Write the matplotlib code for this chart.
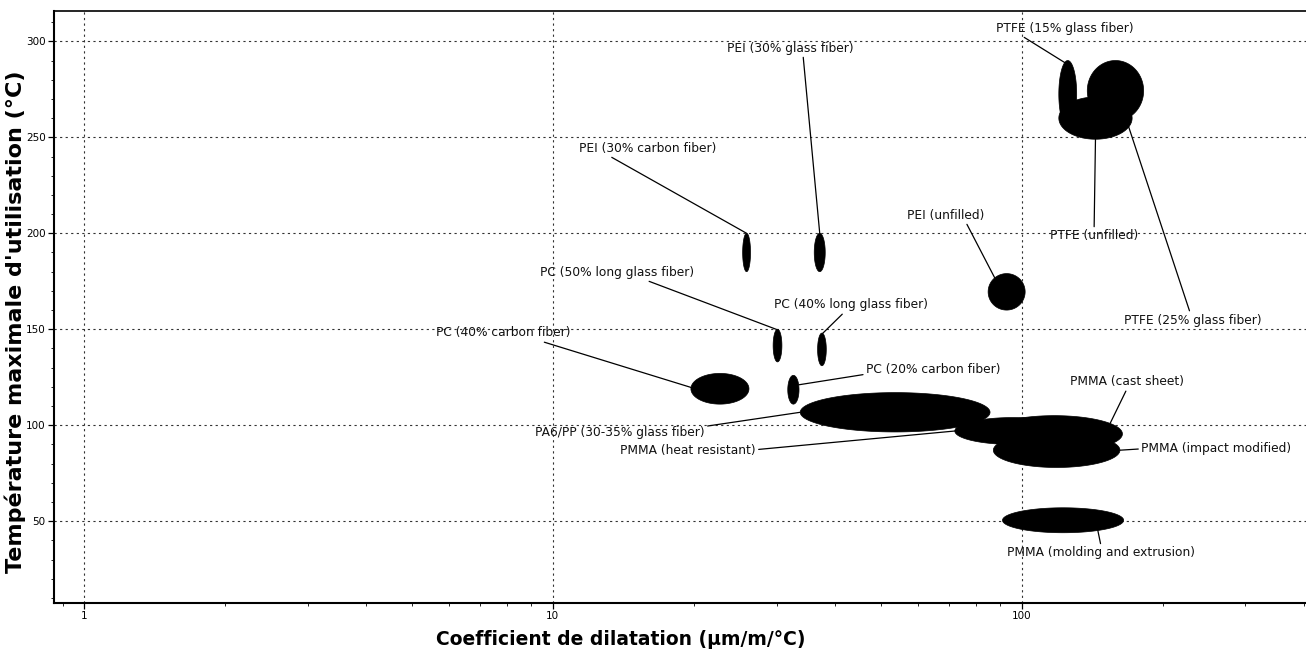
import numpy as np
import matplotlib
matplotlib.use("Agg")
import matplotlib.pyplot as plt
from matplotlib.ticker import FixedLocator, LogLocator, NullFormatter, MultipleLocator

# material bubbles: ranges of CTE (um/m/C) and max service temperature (C)
materials = [
    "PEI (30% carbon fiber)", "PEI (30% glass fiber)", "PC (50% long glass fiber)",
    "PC (40% long glass fiber)", "PC (40% carbon fiber)", "PC (20% carbon fiber)",
    "PA6/PP (30-35% glass fiber)", "PEI (unfilled)", "PTFE (15% glass fiber)",
    "PTFE (25% glass fiber)", "PTFE (unfilled)", "PMMA (heat resistant)",
    "PMMA (cast sheet)", "PMMA (impact modified)", "PMMA (molding and extrusion)",
]
cte_min = [25.4, 36.1, 29.5, 36.7, 19.7, 31.7, 33.7, 84.8, 120, 138, 120, 72, 84, 87, 91]
cte_max = [26.4, 38.1, 30.8, 38.3, 26.2, 33.5, 85.6, 101.7, 131, 182, 172, 127, 164, 162, 165]
tmax_min = [180, 180, 133, 131, 111, 111, 96.5, 160, 255, 258.5, 249, 90, 86, 78, 44]
tmax_max = [200, 200, 150, 148, 127, 126, 117, 179, 290, 290, 271, 104, 105, 96, 57]

x_ticks = [1, 10, 100]
y_ticks = [50, 100, 150, 200, 250, 300]

# label placement: text centre (data coords), where the leader leaves the text,
# and angle (deg) of the point on the bubble edge it points at
label_pos = {
    "PEI (30% carbon fiber)": (15.96, 244.4, (0.2, 0), 90),
    "PEI (30% glass fiber)": (32.1, 296.5, (0.6, 0), 90),
    "PC (50% long glass fiber)": (13.71, 179.8, (0.66, 0), 100),
    "PC (40% long glass fiber)": (43.3, 162.7, (0.46, 0), 80),
    "PC (40% carbon fiber)": (7.83, 148.1, (0.74, 0), 175),
    "PC (20% carbon fiber)": (64.7, 129.3, (0, 0.1), 20),
    "PA6/PP (30-35% glass fiber)": (13.91, 96.0, (1, 1), 180),
    "PEI (unfilled)": (69.0, 209.5, (0.75, 0), 130),
    "PTFE (15% glass fiber)": (123.8, 306.9, (0.17, 0), 110),
    "PTFE (25% glass fiber)": (232.1, 154.8, (0.48, 1), -68),
    "PTFE (unfilled)": (142.7, 198.6, (0.5, 1), -90),
    "PMMA (heat resistant)": (19.43, 86.6, (1, 0.6), 180),
    "PMMA (cast sheet)": (167.9, 122.6, (0.5, 0), 35),
    "PMMA (impact modified)": (259.8, 87.7, (0, 0.5), 0),
    "PMMA (molding and extrusion)": (147.7, 33.5, (0.5, 1), -55),
}


def bubble(i, t):
    lx0, lx1 = np.log10(cte_min[i]), np.log10(cte_max[i])
    cx, a = (lx0 + lx1) / 2, (lx1 - lx0) / 2
    cy, b = (tmax_min[i] + tmax_max[i]) / 2, (tmax_max[i] - tmax_min[i]) / 2
    return 10 ** (cx + a * np.cos(t)), cy + b * np.sin(t)


fig = plt.figure(figsize=(13.06, 6.55), dpi=100)
ax = fig.add_axes([54 / 1306, 52 / 655, 1252 / 1306, 592 / 655])

t = np.linspace(0, 2 * np.pi, 200)
for i, name in enumerate(materials):
    xs, ys = bubble(i, t)
    ax.fill(xs, ys, color="black", lw=0.5, zorder=3)

for i, name in enumerate(materials):
    lx, ly, rel, ang = label_pos[name]
    px, py = bubble(i, np.radians(ang))
    ax.annotate(name, xy=(px, py), xytext=(lx, ly), ha="center", va="center",
                fontsize=8.8, color="#111",
                arrowprops=dict(arrowstyle="-", color="black", lw=0.9,
                                relpos=rel, shrinkA=0, shrinkB=0),
                zorder=4)

ax.set_xscale("log")
ax.set_xlim(0.863, 404)
ax.set_ylim(7.4, 315.8)

ax.xaxis.set_major_locator(FixedLocator(x_ticks))
ax.set_xticklabels([str(v) for v in x_ticks])
ax.xaxis.set_minor_locator(LogLocator(base=10, subs=np.arange(2, 10)))
ax.xaxis.set_minor_formatter(NullFormatter())
ax.yaxis.set_major_locator(FixedLocator(y_ticks))
ax.set_yticklabels([str(v) for v in y_ticks])
ax.yaxis.set_minor_locator(MultipleLocator(10))

ax.tick_params(which="major", length=4, width=0.9, labelsize=7.5, pad=2)
ax.tick_params(which="minor", length=2, width=0.6)

ax.grid(True, which="major", linestyle=(0, (2, 3)), color="#333", lw=0.8)
ax.set_axisbelow(True)

for side in ["left", "bottom"]:
    ax.spines[side].set_linewidth(1.5)
ax.spines["top"].set_linewidth(1.2)
ax.spines["right"].set_visible(False)

ax.set_xlabel("Coefficient de dilatation (µm/m/°C)", fontsize=13.5, fontweight="bold")
ax.xaxis.set_label_coords(0.453, -0.046)
ax.set_ylabel("Température maximale d'utilisation (°C)", fontsize=16, fontweight="bold")
ax.yaxis.set_label_coords(-0.022, 0.475)

fig.savefig("out.png", dpi=100)
